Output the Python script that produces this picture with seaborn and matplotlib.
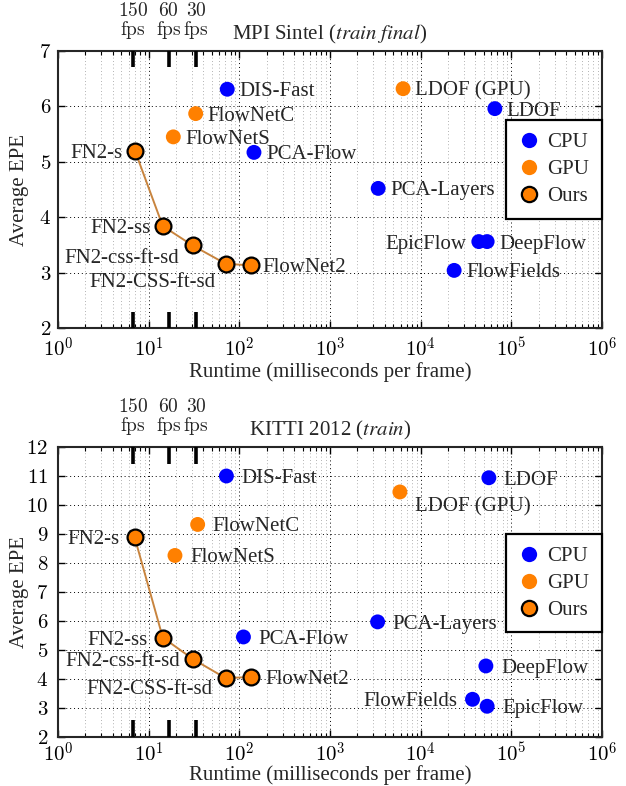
import numpy as np
import pandas as pd
import seaborn as sns
import matplotlib.pyplot as plt
from matplotlib.lines import Line2D
from matplotlib.ticker import FixedLocator, FuncFormatter, MultipleLocator, NullFormatter

# MPI Sintel (train final): runtime in ms, EPE
sintel_cpu_names = ["DIS-Fast", "PCA-Flow", "LDOF", "PCA-Layers", "EpicFlow", "DeepFlow", "FlowFields"]
sintel_cpu_ms = [73.6, 145, 65800, 3400, 43800, 54100, 23400]
sintel_cpu_epe = [6.31, 5.17, 5.96, 4.52, 3.56, 3.56, 3.04]
sintel_gpu_names = ["FlowNetC", "FlowNetS", "LDOF (GPU)"]
sintel_gpu_ms = [33, 18.7, 6400]
sintel_gpu_epe = [5.87, 5.45, 6.32]
sintel_ours_names = ["FN2-s", "FN2-ss", "FN2-css-ft-sd", "FN2-CSS-ft-sd", "FlowNet2"]
sintel_ours_ms = [7.06, 14.3, 30.5, 70.6, 133]
sintel_ours_epe = [5.20, 3.84, 3.49, 3.16, 3.13]

# KITTI 2012 (train)
kitti_cpu_names = ["DIS-Fast", "LDOF", "PCA-Layers", "PCA-Flow", "DeepFlow", "FlowFields", "EpicFlow"]
kitti_cpu_ms = [72, 56500, 3350, 111, 52400, 37300, 54100]
kitti_cpu_epe = [11.0, 10.94, 5.97, 5.45, 4.45, 3.30, 3.06]
kitti_gpu_names = ["FlowNetC", "FlowNetS", "LDOF (GPU)"]
kitti_gpu_ms = [34.7, 19.5, 5900]
kitti_gpu_epe = [9.33, 8.26, 10.45]
kitti_ours_names = ["FN2-s", "FN2-ss", "FN2-css-ft-sd", "FN2-CSS-ft-sd", "FlowNet2"]
kitti_ours_ms = [7.0, 14.3, 31, 70.6, 136]
kitti_ours_epe = [8.89, 5.43, 4.68, 4.03, 4.07]

fps_values = [150, 60, 30]
x_decades = [1, 10, 100, 1e3, 1e4, 1e5, 1e6]

# label offsets in pixels (dx, dy, ha)
sintel_offsets = {
    "DIS-Fast": (12, 0, "left"), "PCA-Flow": (12, 0, "left"), "LDOF": (12, 0, "left"),
    "PCA-Layers": (12, 0, "left"), "EpicFlow": (-12, 0, "right"), "DeepFlow": (12, 0, "left"),
    "FlowFields": (12, 0, "left"), "FlowNetC": (12, 0, "left"), "FlowNetS": (12, 0, "left"),
    "LDOF (GPU)": (12, 0, "left"), "FN2-s": (-12, 0, "right"), "FN2-ss": (-12, 0, "right"),
    "FN2-css-ft-sd": (-13, -11, "right"), "FN2-CSS-ft-sd": (-10, -16, "right"),
    "FlowNet2": (12, 0, "left"),
}
kitti_offsets = {
    "DIS-Fast": (15, 0, "left"), "LDOF": (15, 0, "left"), "PCA-Layers": (15, 0, "left"),
    "PCA-Flow": (15, 0, "left"), "DeepFlow": (15, 0, "left"), "FlowFields": (-15, 0, "right"),
    "EpicFlow": (15, 0, "left"), "FlowNetC": (15, 0, "left"), "FlowNetS": (15, 0, "left"),
    "LDOF (GPU)": (15, -12, "left"), "FN2-s": (-15, 0, "right"), "FN2-ss": (-15, 0, "right"),
    "FN2-css-ft-sd": (-13, 0, "right"), "FN2-CSS-ft-sd": (-13, -9, "right"),
    "FlowNet2": (14, 0, "left"),
}

BLUE = "#0000ff"
ORANGE = "#ff8000"
LINE = "#c8843e"

sns.set_theme(style="ticks")
plt.rcParams["font.family"] = ["Liberation Serif", "DejaVu Serif"]
plt.rcParams["mathtext.fontset"] = "cm"
plt.rcParams["axes.linewidth"] = 1.5


def make_df(names, ms, epe, kind):
    return pd.DataFrame({"name": names, "runtime": ms, "epe": epe, "kind": kind})


def panel(ax, cpu, gpu, ours, offsets, title, ymax, leg_top, xlab_y, xlab_va, xpad, ypad):
    allpts = pd.concat([cpu, gpu])
    sns.scatterplot(data=allpts, x="runtime", y="epe", hue="kind",
                    palette={"CPU": BLUE, "GPU": ORANGE}, s=115, linewidth=0,
                    legend=False, ax=ax, zorder=3)
    sns.lineplot(data=ours, x="runtime", y="epe", color=LINE, linewidth=1.4,
                 sort=False, ax=ax, zorder=3)
    sns.scatterplot(data=ours, x="runtime", y="epe", color=ORANGE, edgecolor="black",
                    linewidth=1.6, s=130, legend=False, ax=ax, zorder=4)

    for df in (cpu, gpu, ours):
        for _, r in df.iterrows():
            dx, dy, ha = offsets[r["name"]]
            ax.annotate(r["name"], (r["runtime"], r["epe"]), xytext=(dx, dy),
                        textcoords="offset pixels", ha=ha, va="center_baseline",
                        fontsize=15, zorder=5)

    ax.set_xscale("log")
    ax.set_xlim(1, 1e6)
    ax.set_ylim(2, ymax)
    minors = [d * k for d in x_decades[:-1] for k in range(2, 10)]
    ax.xaxis.set_major_locator(FixedLocator(x_decades))
    ax.xaxis.set_minor_locator(FixedLocator(minors))
    ax.xaxis.set_minor_formatter(NullFormatter())
    ax.xaxis.set_major_formatter(FuncFormatter(lambda v, p: f"$10^{{{int(round(np.log10(v)))}}}$"))
    ax.yaxis.set_major_locator(MultipleLocator(1))
    ax.yaxis.set_major_formatter(FuncFormatter(lambda v, p: f"${v:g}$"))
    ax.tick_params(which="both", direction="in", top=True, right=True, colors="black",
                   labelsize=15)
    ax.tick_params(which="major", length=5, width=1)
    ax.tick_params(which="minor", length=3, width=0.8)
    ax.tick_params(axis="x", pad=xpad)
    ax.tick_params(axis="y", pad=ypad)

    ax.set_axisbelow(True)
    ax.grid(which="major", color="black", linestyle=(0, (1, 3)), linewidth=0.7)
    ax.xaxis.grid(which="minor", color="0.6", linestyle=(0, (1, 3)), linewidth=0.6)

    # fps marks
    fps_ms = [1000.0 / f for f in fps_values]
    for f, m in zip(fps_values, fps_ms):
        ax.plot([m, m], [0, 0.058], color="black", lw=2.6, transform=ax.get_xaxis_transform(),
                solid_capstyle="butt", zorder=6, clip_on=False)
        ax.plot([m, m], [0.942, 1], color="black", lw=2.6, transform=ax.get_xaxis_transform(),
                solid_capstyle="butt", zorder=6, clip_on=False)
        ax.annotate(f"${f}$\n$\\mathrm{{fps}}$", (m, 1), xycoords=("data", "axes fraction"),
                    xytext=(0, 10), textcoords="offset pixels", ha="center", va="bottom",
                    fontsize=14, linespacing=0.95)

    ax.set_title(title, fontsize=15, pad=8, math_fontfamily="stix")
    ax.set_xlabel("Runtime (milliseconds per frame)", fontsize=15)
    ax.set_ylabel("Average EPE", fontsize=15)
    ax.xaxis.set_label_coords(0.5, xlab_y)
    ax.xaxis.label.set_va(xlab_va)
    ax.yaxis.set_label_coords(-0.07, 0.5)
    ax.yaxis.label.set_va("center")

    handles = [
        Line2D([], [], marker="o", color="none", markerfacecolor=BLUE, markeredgewidth=0,
               markersize=11, label="CPU"),
        Line2D([], [], marker="o", color="none", markerfacecolor=ORANGE, markeredgewidth=0,
               markersize=11, label="GPU"),
        Line2D([], [], marker="o", color="none", markerfacecolor=ORANGE, markeredgecolor="black",
               markeredgewidth=1.6, markersize=11, label="Ours"),
    ]
    leg = ax.legend(handles=handles, loc="upper right", bbox_to_anchor=(1.0, leg_top),
                    fontsize=15, frameon=True, fancybox=False, framealpha=1,
                    edgecolor="black", handlelength=1.0, handletextpad=0.4,
                    labelspacing=0.35, borderpad=0.6, borderaxespad=0)
    leg.get_frame().set_linewidth(1.6)
    leg.set_zorder(7)


fig = plt.figure(figsize=(6.26, 7.86), dpi=100)
ax1 = fig.add_axes([58 / 626, 1 - 328 / 786, 544 / 626, 277 / 786])
ax2 = fig.add_axes([58 / 626, 1 - 737 / 786, 544 / 626, 290 / 786])

panel(ax1,
      make_df(sintel_cpu_names, sintel_cpu_ms, sintel_cpu_epe, "CPU"),
      make_df(sintel_gpu_names, sintel_gpu_ms, sintel_gpu_epe, "GPU"),
      make_df(sintel_ours_names, sintel_ours_ms, sintel_ours_epe, "Ours"),
      sintel_offsets, r"MPI Sintel ($\mathit{train\ final}$)", 7, 0.75, -0.158, "center", 7, 5)
panel(ax2,
      make_df(kitti_cpu_names, kitti_cpu_ms, kitti_cpu_epe, "CPU"),
      make_df(kitti_gpu_names, kitti_gpu_ms, kitti_gpu_epe, "GPU"),
      make_df(kitti_ours_names, kitti_ours_ms, kitti_ours_epe, "Ours"),
      kitti_offsets, r"KITTI 2012 ($\mathit{train}$)", 12, 0.70, -0.1655, "bottom", 4, 7)

fig.savefig("out.png", dpi=100)
